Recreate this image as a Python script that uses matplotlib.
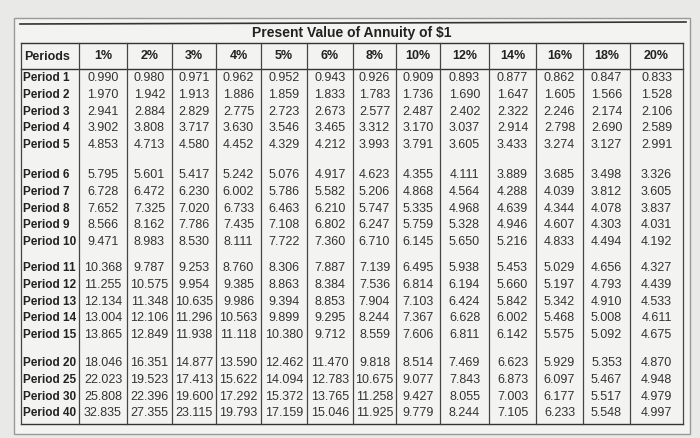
import matplotlib
matplotlib.use("Agg")
import matplotlib.pyplot as plt

title = "Present Value of Annuity of $1"
rates = ["1%", "2%", "3%", "4%", "5%", "6%", "8%", "10%", "12%", "14%", "16%", "18%", "20%"]
periods = ["Period 1", "Period 2", "Period 3", "Period 4", "Period 5",
           "Period 6", "Period 7", "Period 8", "Period 9", "Period 10",
           "Period 11", "Period 12", "Period 13", "Period 14", "Period 15",
           "Period 20", "Period 25", "Period 30", "Period 40"]
values = [
    ["0.990","0.980","0.971","0.962","0.952","0.943","0.926","0.909","0.893","0.877","0.862","0.847","0.833"],
    ["1.970","1.942","1.913","1.886","1.859","1.833","1.783","1.736","1.690","1.647","1.605","1.566","1.528"],
    ["2.941","2.884","2.829","2.775","2.723","2.673","2.577","2.487","2.402","2.322","2.246","2.174","2.106"],
    ["3.902","3.808","3.717","3.630","3.546","3.465","3.312","3.170","3.037","2.914","2.798","2.690","2.589"],
    ["4.853","4.713","4.580","4.452","4.329","4.212","3.993","3.791","3.605","3.433","3.274","3.127","2.991"],
    ["5.795","5.601","5.417","5.242","5.076","4.917","4.623","4.355","4.111","3.889","3.685","3.498","3.326"],
    ["6.728","6.472","6.230","6.002","5.786","5.582","5.206","4.868","4.564","4.288","4.039","3.812","3.605"],
    ["7.652","7.325","7.020","6.733","6.463","6.210","5.747","5.335","4.968","4.639","4.344","4.078","3.837"],
    ["8.566","8.162","7.786","7.435","7.108","6.802","6.247","5.759","5.328","4.946","4.607","4.303","4.031"],
    ["9.471","8.983","8.530","8.111","7.722","7.360","6.710","6.145","5.650","5.216","4.833","4.494","4.192"],
    ["10.368","9.787","9.253","8.760","8.306","7.887","7.139","6.495","5.938","5.453","5.029","4.656","4.327"],
    ["11.255","10.575","9.954","9.385","8.863","8.384","7.536","6.814","6.194","5.660","5.197","4.793","4.439"],
    ["12.134","11.348","10.635","9.986","9.394","8.853","7.904","7.103","6.424","5.842","5.342","4.910","4.533"],
    ["13.004","12.106","11.296","10.563","9.899","9.295","8.244","7.367","6.628","6.002","5.468","5.008","4.611"],
    ["13.865","12.849","11.938","11.118","10.380","9.712","8.559","7.606","6.811","6.142","5.575","5.092","4.675"],
    ["18.046","16.351","14.877","13.590","12.462","11.470","9.818","8.514","7.469","6.623","5.929","5.353","4.870"],
    ["22.023","19.523","17.413","15.622","14.094","12.783","10.675","9.077","7.843","6.873","6.097","5.467","4.948"],
    ["25.808","22.396","19.600","17.292","15.372","13.765","11.258","9.427","8.055","7.003","6.177","5.517","4.979"],
    ["32.835","27.355","23.115","19.793","17.159","15.046","11.925","9.779","8.244","7.105","6.233","5.548","4.997"],
]

fig = plt.figure(figsize=(7, 4.38), dpi=100)
fig.patch.set_facecolor("#e9e9e7")
ax = fig.add_axes([0, 0, 1, 1])
ax.set_xlim(0, 700)
ax.set_ylim(438, 0)
ax.axis("off")

font = ["Liberation Sans", "DejaVu Sans"]
ax.add_patch(plt.Rectangle((14, 18), 676, 416, facecolor="#f3f3f1", edgecolor="#9a9a9a", lw=1))
ax.plot([20, 686], [24, 22], color="#333", lw=1.2)
ax.text(352, 33, title, ha="center", va="center", fontsize=10, fontweight="bold", family=font, color="#222")

xb = [21, 79, 127, 172, 216, 261, 307, 353, 396, 440, 489, 536, 583, 630, 683]
y_top, y_hdr_bot, y_bot = 43, 69, 424
ax.plot([xb[0], xb[-1]], [y_top, y_top], color="#333", lw=1)
ax.plot([xb[0], xb[-1]], [y_hdr_bot, y_hdr_bot], color="#333", lw=1)
ax.plot([xb[0], xb[-1]], [y_bot, y_bot], color="#333", lw=1)
for x in xb:
    ax.plot([x, x], [y_top, y_bot], color="#444", lw=0.9)

group_start = [78, 175, 268, 363]
step = 16.8
ys = []
for g, s in enumerate(group_start):
    n = 5 if g < 3 else 4
    ys += [s + i * step for i in range(n)]

ax.text(xb[0] + 3, 57, "Periods", ha="left", va="center", fontsize=9, fontweight="bold", family=font, color="#222")
for j, r in enumerate(rates):
    ax.text((xb[j + 1] + xb[j + 2]) / 2, 56, r, ha="center", va="center", fontsize=9, fontweight="bold", family=font, color="#222")
for i, p in enumerate(periods):
    ax.text(xb[0] + 2, ys[i], p, ha="left", va="center", fontsize=8.5, fontweight="bold", family=font, color="#222")
    for j, v in enumerate(values[i]):
        ax.text((xb[j + 1] + xb[j + 2]) / 2, ys[i], v, ha="center", va="center", fontsize=9, family=font, color="#333")

fig.savefig("out.png", dpi=100, facecolor=fig.get_facecolor())
